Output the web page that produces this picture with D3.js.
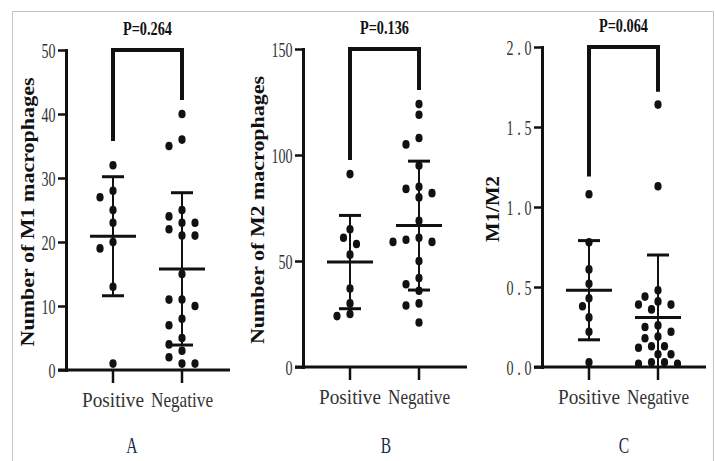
<!DOCTYPE html>
<html>
<head>
<meta charset="utf-8">
<script src="https://cdn.jsdelivr.net/npm/d3@7.9.0/dist/d3.min.js"></script>
<style>
  html, body { margin: 0; padding: 0; background: #fff; }
  svg { display: block; }
</style>
</head>
<body>
<div id="chart"></div>
<script>
const groups = ['Positive', 'Negative'];

// A: number of M1 macrophages
const m1Positive = [32, 28, 27, 25, 23, 20, 19, 13, 1];
const m1Negative = [40, 36, 35, 25, 24, 23, 23, 22, 21, 21, 15, 11, 11, 10, 8, 7, 5, 4, 3, 2, 1, 1];
const m1Mean = [20.9, 15.8];
const m1Sd = [9.3, 11.9];

// B: number of M2 macrophages
const m2Positive = [91, 65, 61, 58, 53, 37, 30, 25, 24];
const m2Negative = [124, 119, 108, 105, 95, 85, 84, 82, 80, 69, 61, 60, 59, 59, 50, 42, 39, 36, 30, 29, 21];
const m2Mean = [49.5, 66.7];
const m2Sd = [22.0, 30.4];

// C: M1/M2 ratio
const ratioPositive = [1.08, 0.78, 0.61, 0.52, 0.43, 0.38, 0.31, 0.22, 0.03];
const ratioNegative = [1.64, 1.13, 0.48, 0.44, 0.41, 0.39, 0.39, 0.36, 0.26, 0.25, 0.22,
                       0.19, 0.18, 0.13, 0.13, 0.12, 0.08, 0.08, 0.03, 0.03, 0.02, 0.02];
const ratioMean = [0.48, 0.31];
const ratioSd = [0.31, 0.39];

const pValues = ['P=0.264', 'P=0.136', 'P=0.064'];
const bracketEnds = [[35.8, 42.2], [97.6, 130.7], [1.19, 1.72]];
const yTicks = [[0, 10, 20, 30, 40, 50], [0, 50, 100, 150], [0, 0.5, 1.0, 1.5, 2.0]];
const yTitles = ['Number of M1 macrophages', 'Number of M2 macrophages', 'M1/M2'];
const panelLetters = ['A', 'B', 'C'];

const W = 715, H = 461;
const ink = '#111';
const serif = '"Liberation Serif", "Times New Roman", serif';

const panels = [
  { pos: m1Positive, neg: m1Negative, mean: m1Mean, sd: m1Sd, fmt: d3.format('d'),
    x0: 66, yBase: 370, yTop: 50, letterX: 132, titleLen: 269 },
  { pos: m2Positive, neg: m2Negative, mean: m2Mean, sd: m2Sd, fmt: d3.format('d'),
    x0: 303, yBase: 367, yTop: 49, letterX: 386, titleLen: 268 },
  { pos: ratioPositive, neg: ratioNegative, mean: ratioMean, sd: ratioSd, fmt: d3.format('.1f'),
    x0: 542, yBase: 367, yTop: 47, letterX: 624, titleLen: 66, tickWidth: 25 },
];

const svg = d3.select('#chart').append('svg')
  .attr('width', W)
  .attr('height', H);

// thin grey frame round the figure
svg.append('path')
  .attr('d', `M12.5,${H} V11.5 H713.5 V${H}`)
  .attr('fill', 'none')
  .attr('stroke', '#c4c4c4')
  .attr('stroke-width', 1);

// simple beeswarm: slide each dot sideways until it is clear of the others
function swarm(values, y, step, gapX, gapY) {
  const placed = [];
  const order = values.map(v => ({ v, y: y(v) })).sort((a, b) => a.y - b.y);
  for (const p of order) {
    for (let k = 0; k < 40; k++) {
      const off = k === 0 ? 0 : (k % 2 ? -1 : 1) * Math.ceil(k / 2) * step;
      const hit = placed.some(q =>
        ((q.dx - off) / gapX) ** 2 + ((q.y - p.y) / gapY) ** 2 < 1);
      if (!hit) { p.dx = off; placed.push(p); break; }
    }
  }
  return placed;
}

function drawPanel(p, i) {
  const ticks = yTicks[i];
  const y = d3.scaleLinear()
    .domain([ticks[0], ticks[ticks.length - 1]])
    .range([p.yBase, p.yTop]);
  const x = d3.scalePoint().domain(groups).range([p.x0 + 47, p.x0 + 116]);
  const g = svg.append('g');

  // y axis
  const sx = 0.67;
  const ya = g.append('g')
    .attr('transform', `translate(${p.x0},0)`)
    .call(d3.axisLeft(y).tickValues(ticks).tickFormat(p.fmt)
      .tickSize(8).tickSizeOuter(0).tickPadding(3));
  ya.select('.domain')
    .attr('stroke', ink).attr('stroke-width', 3).attr('stroke-linecap', 'square');
  ya.selectAll('.tick line').attr('stroke', ink).attr('stroke-width', 2.5);
  const tt = ya.selectAll('.tick text')
    .attr('fill', '#333')
    .attr('font-family', serif)
    .attr('font-size', 21)
    .attr('x', -10.5 / sx)
    .attr('dy', '0.34em')
    .attr('transform', `scale(${sx},1)`);
  if (p.tickWidth) tt.attr('textLength', p.tickWidth / sx).attr('lengthAdjust', 'spacing');

  // x axis
  g.append('line')
    .attr('x1', p.x0 - 8).attr('x2', p.x0 + 164)
    .attr('y1', p.yBase).attr('y2', p.yBase)
    .attr('stroke', ink).attr('stroke-width', 3);
  g.selectAll('.xtick').data(groups).join('line')
    .attr('x1', d => x(d)).attr('x2', d => x(d))
    .attr('y1', p.yBase).attr('y2', p.yBase + 13)
    .attr('stroke', ink).attr('stroke-width', 2.5);
  g.selectAll('.xlab').data(groups).join('text')
    .attr('x', d => x(d))
    .attr('y', p.yBase + 37)
    .attr('text-anchor', 'middle')
    .attr('font-family', serif)
    .attr('font-size', 21)
    .attr('fill', '#333')
    .attr('textLength', 62)
    .attr('lengthAdjust', 'spacingAndGlyphs')
    .text(d => d);

  // dots
  [p.pos, p.neg].forEach((vals, gi) => {
    const cx = x(groups[gi]);
    g.append('g').selectAll('ellipse')
      .data(swarm(vals, y, 6.5, 10, 10))
      .join('ellipse')
      .attr('cx', d => cx + d.dx)
      .attr('cy', d => d.y)
      .attr('rx', 3.6)
      .attr('ry', 4.3)
      .attr('fill', ink);
  });

  // mean and SD
  groups.forEach((grp, gi) => {
    const cx = x(grp);
    const lo = Math.max(p.mean[gi] - p.sd[gi], y.domain()[0]);
    const hi = p.mean[gi] + p.sd[gi];
    g.append('line')
      .attr('x1', cx).attr('x2', cx)
      .attr('y1', y(lo)).attr('y2', y(hi))
      .attr('stroke', ink).attr('stroke-width', 2);
    const caps = [hi];
    if (p.mean[gi] - p.sd[gi] >= y.domain()[0]) caps.push(lo);
    caps.forEach(v => g.append('line')
      .attr('x1', cx - 11).attr('x2', cx + 11)
      .attr('y1', y(v)).attr('y2', y(v))
      .attr('stroke', ink).attr('stroke-width', 3));
    g.append('line')
      .attr('x1', cx - 23).attr('x2', cx + 23)
      .attr('y1', y(p.mean[gi])).attr('y2', y(p.mean[gi]))
      .attr('stroke', ink).attr('stroke-width', 3);
  });

  // significance bracket
  const top = y.domain()[1];
  const [e0, e1] = bracketEnds[i];
  g.append('path')
    .attr('d', `M${x(groups[0])},${y(e0)} V${y(top)} H${x(groups[1])} V${y(e1)}`)
    .attr('fill', 'none')
    .attr('stroke', ink)
    .attr('stroke-width', 4)
    .attr('stroke-linejoin', 'miter');
  g.append('text')
    .attr('x', (x(groups[0]) + x(groups[1])) / 2)
    .attr('y', p.yTop - 15)
    .attr('text-anchor', 'middle')
    .attr('font-family', serif)
    .attr('font-weight', 'bold')
    .attr('font-size', 18)
    .attr('fill', ink)
    .attr('textLength', 49)
    .attr('lengthAdjust', 'spacingAndGlyphs')
    .text(pValues[i]);

  // y title, placed left of the widest tick label
  const bb = ya.node().getBBox();
  const bx = p.x0 + bb.x - 7.5;
  const cy = (p.yBase + p.yTop) / 2 + 2;
  g.append('text')
    .attr('transform', `translate(${bx},${cy}) rotate(-90)`)
    .attr('text-anchor', 'middle')
    .attr('font-family', serif)
    .attr('font-weight', 'bold')
    .attr('font-size', 19)
    .attr('fill', ink)
    .attr('textLength', p.titleLen)
    .attr('lengthAdjust', 'spacingAndGlyphs')
    .text(yTitles[i]);

  // panel letter
  g.append('text')
    .attr('transform', `translate(${p.letterX},453) scale(0.65,1)`)
    .attr('text-anchor', 'middle')
    .attr('font-family', serif)
    .attr('font-size', 24)
    .attr('fill', '#1d2b4f')
    .text(panelLetters[i]);
}

panels.forEach(drawPanel);
</script>
</body>
</html>
